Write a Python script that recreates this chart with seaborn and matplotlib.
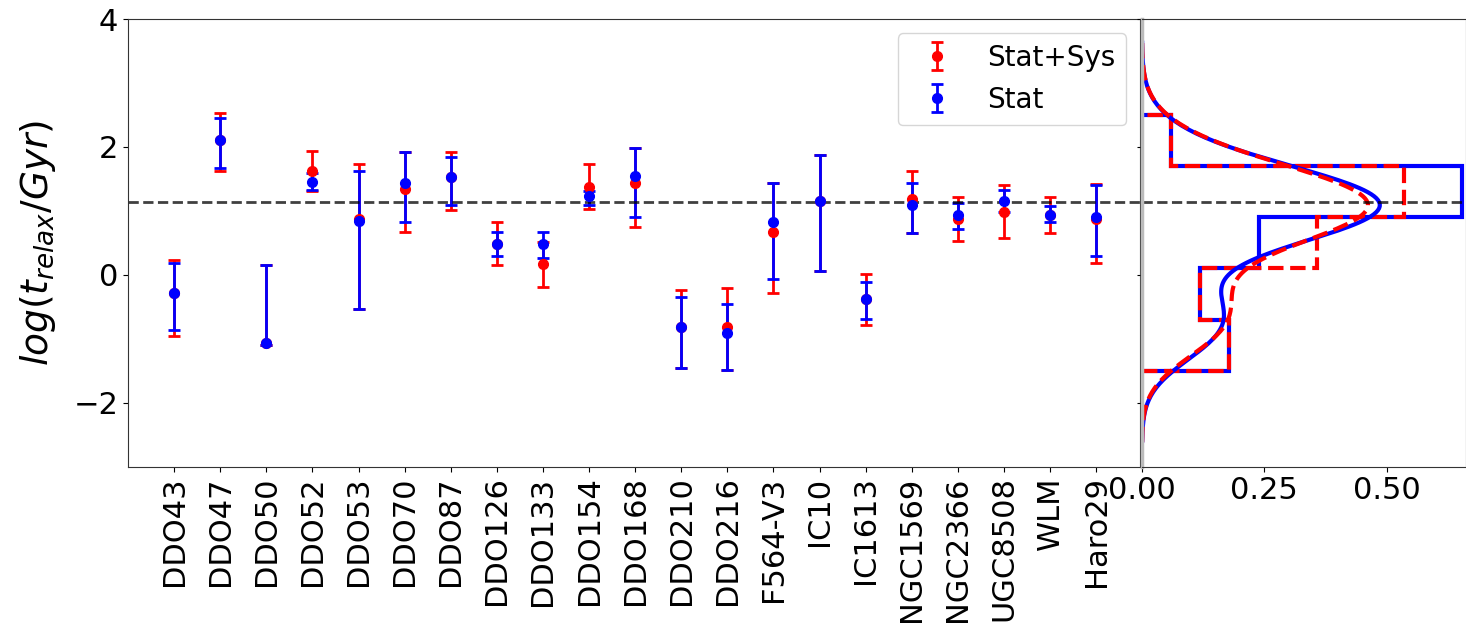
import numpy as np
import matplotlib
matplotlib.use("Agg")
import matplotlib.pyplot as plt
import seaborn as sns

galaxies = ["DDO43", "DDO47", "DDO50", "DDO52", "DDO53", "DDO70", "DDO87",
            "DDO126", "DDO133", "DDO154", "DDO168", "DDO210", "DDO216",
            "F564-V3", "IC10", "IC1613", "NGC1569", "NGC2366", "UGC8508",
            "WLM", "Haro29"]

# log(t_relax / Gyr) with statistical + systematic uncertainties (bounds)
sys_val = [-0.28, 2.11, -1.07, 1.63, 0.88, 1.34, 1.53, 0.48, 0.17, 1.38, 1.43,
           -0.82, -0.81, 0.67, 1.15, -0.38, 1.19, 0.87, 0.99, 0.94, 0.88]
sys_lo = [-0.95, 1.63, -1.09, 1.31, -0.54, 0.67, 1.02, 0.15, -0.19, 1.03, 0.75,
          -1.46, -1.49, -0.29, 0.06, -0.79, 0.66, 0.53, 0.57, 0.66, 0.19]
sys_hi = [0.24, 2.53, 0.15, 1.93, 1.73, 1.92, 1.92, 0.82, 0.52, 1.73, 1.99,
          -0.23, -0.20, 1.43, 1.88, 0.02, 1.62, 1.21, 1.40, 1.21, 1.42]

# statistical uncertainties only (bounds)
stat_val = [-0.28, 2.11, -1.07, 1.46, 0.84, 1.43, 1.53, 0.48, 0.48, 1.24, 1.55,
            -0.82, -0.91, 0.82, 1.15, -0.38, 1.09, 0.94, 1.15, 0.94, 0.91]
stat_lo = [-0.87, 1.67, -1.09, 1.33, -0.54, 0.83, 1.09, 0.29, 0.26, 1.09, 0.91,
           -1.46, -1.49, -0.07, 0.06, -0.69, 0.66, 0.72, 0.98, 0.82, 0.29]
stat_hi = [0.18, 2.45, 0.15, 1.60, 1.63, 1.92, 1.85, 0.67, 0.67, 1.31, 1.99,
           -0.35, -0.45, 1.43, 1.88, -0.11, 1.43, 1.12, 1.33, 1.07, 1.40]

mean_level = 1.14
hist_edges = [-1.5, -0.7, 0.1, 0.9, 1.7, 2.5]

sns.set_style("ticks")
plt.rcParams["font.family"] = ["DejaVu Sans"]
plt.rcParams["mathtext.fontset"] = "dejavusans"
plt.rcParams["text.color"] = "black"
plt.rcParams["xtick.color"] = "black"
plt.rcParams["ytick.color"] = "black"
plt.rcParams["axes.labelcolor"] = "black"
plt.rcParams["axes.edgecolor"] = "#333333"

fig = plt.figure(figsize=(14.66, 6.36), dpi=100)
ax = fig.add_axes([0.0873, 0.2662, 0.6903, 0.7038])
axh = fig.add_axes([0.7790, 0.2662, 0.2210, 0.7038], sharey=ax)

x = np.arange(len(galaxies))
sv, sl, sh = map(np.asarray, (sys_val, sys_lo, sys_hi))
tv, tl, th = map(np.asarray, (stat_val, stat_lo, stat_hi))

ax.errorbar(x, sv, yerr=[sv - sl, sh - sv], fmt="o", color="red", ms=7,
            elinewidth=2, capsize=4.5, capthick=2, label="Stat+Sys")
ax.errorbar(x, tv, yerr=[tv - tl, th - tv], fmt="o", color="blue", ms=7,
            elinewidth=2, capsize=4.5, capthick=2, label="Stat")
ax.axhline(mean_level, color="black", ls="--", lw=2, alpha=0.75)

ax.set_xticks(x)
ax.set_xticklabels(galaxies, rotation=90, fontsize=22)
ax.set_xlim(-1, 20.95)
ax.set_ylim(-3, 4)
ax.set_yticks([-2, 0, 2, 4])
ax.tick_params(axis="y", labelsize=22)
ax.set_ylabel(r"$log(t_{relax}/Gyr)$", fontsize=27, labelpad=11)
ax.legend(loc="upper right", fontsize=20, framealpha=0.8)

# marginal distributions: step histograms with KDE curves
axh.hist(tv, bins=hist_edges, density=True, histtype="step",
         orientation="horizontal", color="blue", lw=3)
axh.hist(sv, bins=hist_edges, density=True, histtype="step",
         orientation="horizontal", color="red", lw=3, ls="--")
sns.kdeplot(y=tv, color="blue", lw=3, cut=3.2, ax=axh)
sns.kdeplot(y=sv, color="red", lw=3, ls="--", cut=3.2, ax=axh)
axh.axhline(mean_level, color="black", ls="--", lw=2, alpha=0.75)
axh.set_xlim(0, 0.662)
axh.set_xticks([0.0, 0.25, 0.5])
axh.set_xticklabels(["0.00", "0.25", "0.50"])
axh.tick_params(axis="x", labelsize=22)
axh.tick_params(axis="y", labelleft=False)
axh.set_xlabel("")
axh.set_ylabel("")
axh.spines["left"].set_color("#bbbbbb")
axh.spines["left"].set_linewidth(2.5)

for a in (ax, axh):
    for s in a.spines.values():
        s.set_visible(True)

fig.savefig("out.png", dpi=100)
